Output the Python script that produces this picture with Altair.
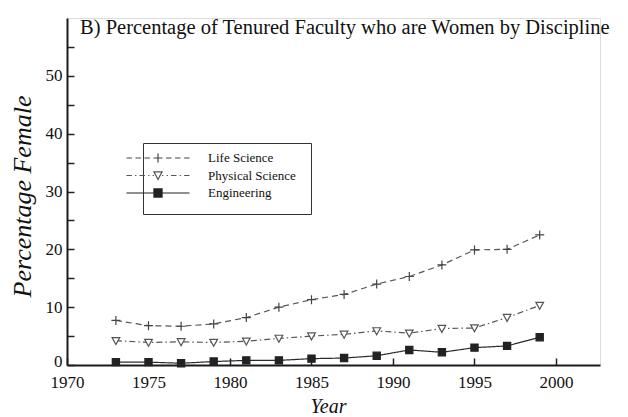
import altair as alt
import pandas as pd

years = [1973, 1975, 1977, 1979, 1981, 1983, 1985, 1987, 1989, 1991, 1993, 1995, 1997, 1999]
life = [7.7, 6.8, 6.7, 7.1, 8.2, 10.0, 11.3, 12.2, 14.0, 15.3, 17.3, 19.9, 20.0, 22.5]
phys = [4.2, 3.9, 4.0, 3.9, 4.1, 4.6, 5.0, 5.3, 5.9, 5.5, 6.3, 6.4, 8.2, 10.3]
eng = [0.5, 0.5, 0.3, 0.6, 0.8, 0.8, 1.1, 1.2, 1.6, 2.6, 2.2, 3.0, 3.3, 4.8]
series = ["Life Science", "Physical Science", "Engineering"]
x_ticks = [1970, 1975, 1980, 1985, 1990, 1995, 2000]
y_ticks = [0, 5, 10, 15, 20, 25, 30, 35, 40, 45, 50, 55]

rows = []
for name, vals in zip(series, [life, phys, eng]):
    for yr, v in zip(years, vals):
        rows.append({"Year": yr, "Pct": v, "Series": name})
df = pd.DataFrame(rows)

SERIF = "Liberation Serif"
line_colors = ["#555555", "#555555", "#2b2b2b"]
dashes = [[6, 4], [6, 3, 1.5, 3], [1, 0]]

# plot markers (custom paths, scaled by sqrt(size)/2)
plus = "M-1,0H1M0,-1V1"
tri = "M-0.85,-0.7L0.85,-0.7L0,0.85Z"
sq = "M-0.8,-0.8H0.8V0.8H-0.8Z"

# legend symbols: line sample with marker in middle (unit = 9px);
# lone moveTo points only widen the legend frame
leg_life = ("M-4.89,0"
            "M-3.5,0H-2.9M-2.5,0H-1.9M-1.5,0H-0.9M-0.5,0H0.5M0.9,0H1.5M1.9,0H2.5M2.9,0H3.5"
            "M-0.5,0H0.5M0,-0.5V0.5"
            "M16.1,0")
leg_phys = ("M-3.5,0H-2.9M-2.55,0H-2.4M-2.05,0H-1.45M-1.1,0H-0.95M0.95,0H1.1M1.45,0H2.05M2.4,0H2.55M2.9,0H3.5"
            "M-0.6,0H-0.45M0.45,0H0.6"
            "M-0.45,-0.4L0.45,-0.4L0,0.45Z")
leg_eng = "M-3.5,0H-0.45M0.45,0H3.5M-0.45,-0.45H0.45V0.45H-0.45Z"

x_enc = alt.X("Year:Q", scale=alt.Scale(domain=[1970, 2002.7], nice=False, zero=False),
              axis=alt.Axis(values=x_ticks, format="d", title="Year",
                            titleFont=SERIF, titleFontStyle="italic", titleFontSize=20,
                            titleFontWeight="normal", titleColor="#111",
                            titleX=261, titleY=47, titleBaseline="alphabetic",
                            labelFont=SERIF, labelFontSize=17, labelColor="#111",
                            labelPadding=16, tickSize=alt.ExprRef(expr="-7"),
                            tickColor="#222", tickWidth=1.5,
                            domainColor="#1a1a1a", domainWidth=2, grid=False,
                            labelFlush=False, labelOverlap=False))
y_enc = alt.Y("Pct:Q", scale=alt.Scale(domain=[0, 60], nice=False),
              axis=alt.Axis(values=y_ticks, title="Percentage Female",
                            labelExpr="datum.value % 10 == 0 ? datum.label : ''",
                            labelOffset={"condition": {"test": "datum.value == 0", "value": -4}, "value": 0},
                            titleFont=SERIF, titleFontStyle="italic", titleFontSize=26,
                            titleFontWeight="normal", titleColor="#111",
                            titleAngle=270, titleX=-37, titleY=178, titleAlign="center",
                            titleBaseline="alphabetic",
                            labelFont=SERIF, labelFontSize=17, labelColor="#111",
                            labelPadding=12, tickSize=alt.ExprRef(expr="-7"),
                            tickColor="#222", tickWidth=1.5,
                            domainColor="#1a1a1a", domainWidth=2, grid=False,
                            labelFlush=False, labelOverlap=False))

lines = alt.Chart(df).mark_line(strokeWidth=1.2).encode(
    x=x_enc, y=y_enc,
    color=alt.Color("Series:N", scale=alt.Scale(domain=series, range=line_colors), legend=None),
    strokeDash=alt.StrokeDash("Series:N", scale=alt.Scale(domain=series, range=dashes), legend=None),
)

points = alt.Chart(df).mark_point(size=81, strokeWidth=1.2, opacity=1).encode(
    x=x_enc, y=y_enc,
    shape=alt.Shape("Series:N", scale=alt.Scale(domain=series, range=[plus, tri, sq]), legend=None),
    fill=alt.Fill("Series:N", scale=alt.Scale(domain=series, range=["transparent", "white", "#222222"]), legend=None),
    stroke=alt.Stroke("Series:N", scale=alt.Scale(domain=series, range=["#444444", "#555555", "#222222"]), legend=None),
)

leg = alt.Legend(title=" ", titleOrient="bottom", titleFontSize=9, titlePadding=0,
                 orient="none", legendX=76, legendY=125,
                 symbolSize=324, symbolStrokeWidth=1.2, labelFont=SERIF, labelFontSize=13,
                 labelColor="#111", labelOffset=40, rowPadding=0.5, padding=5,
                 strokeColor="#333", symbolType="circle")

legend_layer = alt.Chart(df).transform_filter("false").mark_point(size=324, strokeWidth=1.2, opacity=1).encode(
    x=x_enc, y=y_enc,
    shape=alt.Shape("Series:N", scale=alt.Scale(domain=series, range=[leg_life, leg_phys, leg_eng]), legend=leg),
    fill=alt.Fill("Series:N", scale=alt.Scale(domain=series, range=["transparent", "white", "#222222"]), legend=leg),
    stroke=alt.Stroke("Series:N", scale=alt.Scale(domain=series, range=["#444444", "#555555", "#222222"]), legend=leg),
)

chart = alt.layer(lines, points, legend_layer).resolve_scale(
    shape="independent", fill="independent", stroke="independent"
).properties(
    width=533, height=347,
    autosize=alt.AutoSizeParams(type="none"),
    padding={"left": 59, "top": 10, "right": 20, "bottom": 50},
    title=alt.TitleParams(text="B) Percentage of Tenured Faculty who are Women by Discipline",
                          anchor="start", frame="group", font=SERIF, fontSize=20.5,
                          fontWeight="normal", color="#111", baseline="alphabetic",
                          offset=-24, dx=13, dy=12),
).configure_view(stroke=None).configure(background="white")

chart.save("out.html", embed_options={"renderer": "svg", "actions": False})
